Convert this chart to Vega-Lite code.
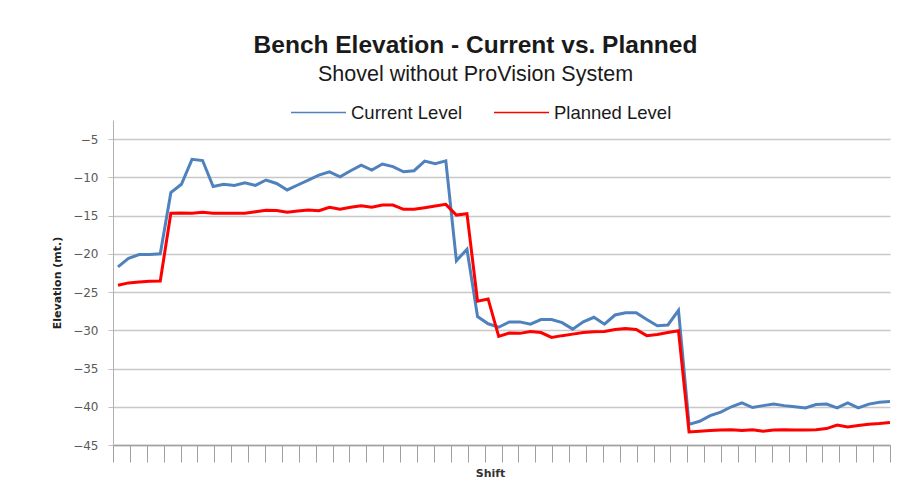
{
  "$schema": "https://vega.github.io/schema/vega-lite/v6.json",
  "width": 777,
  "height": 325,
  "autosize": "none",
  "padding": {"left": 113, "top": 120, "right": 10, "bottom": 48},
  "background": "white",
  "title": {
    "text": "Bench Elevation - Current vs. Planned",
    "subtitle": "Shovel without ProVision System",
    "anchor": "middle",
    "dx": -26,
    "font": "Liberation Sans",
    "fontSize": 24.5,
    "fontWeight": "bold",
    "color": "#1a1a1a",
    "subtitleFont": "Liberation Sans",
    "subtitleFontSize": 21.5,
    "subtitleColor": "#1a1a1a",
    "subtitlePadding": 5,
    "offset": -2
  },
  "data": {
    "values": [
      {"shift": 0, "current": -21.7, "planned": -24.1},
      {"shift": 1, "current": -20.6, "planned": -23.8},
      {"shift": 2, "current": -20.1, "planned": -23.7},
      {"shift": 3, "current": -20.1, "planned": -23.6},
      {"shift": 4, "current": -20.0, "planned": -23.55},
      {"shift": 5, "current": -12.0, "planned": -14.7},
      {"shift": 6, "current": -10.9, "planned": -14.65},
      {"shift": 7, "current": -7.65, "planned": -14.7},
      {"shift": 8, "current": -7.8, "planned": -14.55},
      {"shift": 9, "current": -11.2, "planned": -14.7},
      {"shift": 10, "current": -10.9, "planned": -14.7},
      {"shift": 11, "current": -11.05, "planned": -14.7},
      {"shift": 12, "current": -10.7, "planned": -14.7},
      {"shift": 13, "current": -11.05, "planned": -14.5},
      {"shift": 14, "current": -10.35, "planned": -14.3},
      {"shift": 15, "current": -10.8, "planned": -14.35},
      {"shift": 16, "current": -11.65, "planned": -14.57},
      {"shift": 17, "current": -11.0, "planned": -14.4},
      {"shift": 18, "current": -10.35, "planned": -14.27},
      {"shift": 19, "current": -9.7, "planned": -14.36},
      {"shift": 20, "current": -9.27, "planned": -13.92},
      {"shift": 21, "current": -9.92, "planned": -14.18},
      {"shift": 22, "current": -9.13, "planned": -13.92},
      {"shift": 23, "current": -8.4, "planned": -13.7},
      {"shift": 24, "current": -9.05, "planned": -13.92},
      {"shift": 25, "current": -8.26, "planned": -13.62},
      {"shift": 26, "current": -8.6, "planned": -13.62},
      {"shift": 27, "current": -9.27, "planned": -14.18},
      {"shift": 28, "current": -9.13, "planned": -14.18},
      {"shift": 29, "current": -7.87, "planned": -13.97},
      {"shift": 30, "current": -8.2, "planned": -13.75},
      {"shift": 31, "current": -7.85, "planned": -13.53},
      {"shift": 32, "current": -20.9, "planned": -14.93},
      {"shift": 33, "current": -19.4, "planned": -14.75},
      {"shift": 34, "current": -28.2, "planned": -26.2},
      {"shift": 35, "current": -29.15, "planned": -25.9},
      {"shift": 36, "current": -29.6, "planned": -30.8},
      {"shift": 37, "current": -28.9, "planned": -30.37},
      {"shift": 38, "current": -28.9, "planned": -30.4},
      {"shift": 39, "current": -29.2, "planned": -30.15},
      {"shift": 40, "current": -28.6, "planned": -30.3},
      {"shift": 41, "current": -28.6, "planned": -30.94},
      {"shift": 42, "current": -29.0, "planned": -30.7},
      {"shift": 43, "current": -29.85, "planned": -30.5},
      {"shift": 44, "current": -28.9, "planned": -30.3},
      {"shift": 45, "current": -28.3, "planned": -30.2},
      {"shift": 46, "current": -29.2, "planned": -30.15},
      {"shift": 47, "current": -28.0, "planned": -29.9},
      {"shift": 48, "current": -27.7, "planned": -29.76},
      {"shift": 49, "current": -27.7, "planned": -29.9},
      {"shift": 50, "current": -28.6, "planned": -30.7},
      {"shift": 51, "current": -29.4, "planned": -30.55},
      {"shift": 52, "current": -29.3, "planned": -30.3},
      {"shift": 53, "current": -27.4, "planned": -30.07},
      {"shift": 54, "current": -42.3, "planned": -43.3},
      {"shift": 55, "current": -41.9, "planned": -43.2},
      {"shift": 56, "current": -41.15, "planned": -43.1},
      {"shift": 57, "current": -40.7, "planned": -43.05},
      {"shift": 58, "current": -40.0, "planned": -43.0},
      {"shift": 59, "current": -39.5, "planned": -43.1},
      {"shift": 60, "current": -40.1, "planned": -43.0},
      {"shift": 61, "current": -39.85, "planned": -43.2},
      {"shift": 62, "current": -39.65, "planned": -43.05},
      {"shift": 63, "current": -39.85, "planned": -43.0},
      {"shift": 64, "current": -40.0, "planned": -43.05},
      {"shift": 65, "current": -40.15, "planned": -43.05},
      {"shift": 66, "current": -39.7, "planned": -43.0},
      {"shift": 67, "current": -39.65, "planned": -42.85},
      {"shift": 68, "current": -40.15, "planned": -42.4},
      {"shift": 69, "current": -39.5, "planned": -42.65},
      {"shift": 70, "current": -40.15, "planned": -42.45},
      {"shift": 71, "current": -39.65, "planned": -42.3},
      {"shift": 72, "current": -39.4, "planned": -42.2},
      {"shift": 73, "current": -39.3, "planned": -42.05}
    ]
  },
  "transform": [
    {"fold": ["current", "planned"], "as": ["key", "elevation"]},
    {"lookup": "key", "from": {"data": {"values": [{"key": "current", "series": "Current Level"}, {"key": "planned", "series": "Planned Level"}]}, "key": "key", "fields": ["series"]}}
  ],
  "mark": {"type": "line", "strokeWidth": 3, "clip": true},
  "encoding": {
    "x": {
      "field": "shift",
      "type": "quantitative",
      "scale": {"domain": [-0.47, 73], "nice": false, "zero": false},
      "axis": {
        "title": "Shift",
        "titleFont": "DejaVu Sans",
        "titleFontSize": 11,
        "titleFontWeight": "bold",
        "titleColor": "#333333",
        "titlePadding": 5,
        "titleX": 377,
        "labels": false,
        "grid": false,
        "domainColor": "#a0a0a0",
        "domainWidth": 1.5,
        "tickColor": "#a0a0a0",
        "tickWidth": 1,
        "tickSize": 17,
        "values": [-0.47, 1.127, 2.724, 4.322, 5.919, 7.516, 9.113, 10.71, 12.307, 13.905, 15.502, 17.099, 18.696, 20.293, 21.89, 23.488, 25.085, 26.682, 28.279, 29.876, 31.473, 33.071, 34.668, 36.265, 37.862, 39.459, 41.056, 42.654, 44.251, 45.848, 47.445, 49.042, 50.639, 52.237, 53.834, 55.431, 57.028, 58.625, 60.222, 61.82, 63.417, 65.014, 66.611, 68.208, 69.805, 71.403, 73.0]
      }
    },
    "y": {
      "field": "elevation",
      "type": "quantitative",
      "scale": {"domain": [-45, -2.5], "nice": false, "zero": false},
      "axis": {
        "title": "Elevation (mt.)",
        "titleFont": "DejaVu Sans",
        "titleFontSize": 11,
        "titleFontWeight": "bold",
        "titleColor": "#222222",
        "titlePadding": 10,
        "values": [-5, -10, -15, -20, -25, -30, -35, -40, -45],
        "labelFont": "DejaVu Sans",
        "labelFontSize": 12,
        "labelColor": "#595959",
        "labelPadding": 10,
        "tickSize": 5,
        "tickColor": "#c0c0c0",
        "domainColor": "#b0b0b0",
        "gridColor": "#c8c8c8",
        "gridWidth": 1.5
      }
    },
    "color": {
      "field": "series",
      "type": "nominal",
      "scale": {"domain": ["Current Level", "Planned Level"], "range": ["#4F81BD", "#FF0000"]},
      "legend": {
        "title": null,
        "orient": "none",
        "legendX": 177,
        "legendY": -36,
        "direction": "horizontal",
        "symbolType": "stroke",
        "symbolSize": 3025,
        "symbolStrokeWidth": 1.5,
        "labelFont": "Liberation Sans",
        "labelFontSize": 18.5,
        "labelColor": "#1a1a1a",
        "labelOffset": 4,
        "columnPadding": 28
      }
    }
  },
  "config": {
    "view": {"stroke": null}
  }
}
